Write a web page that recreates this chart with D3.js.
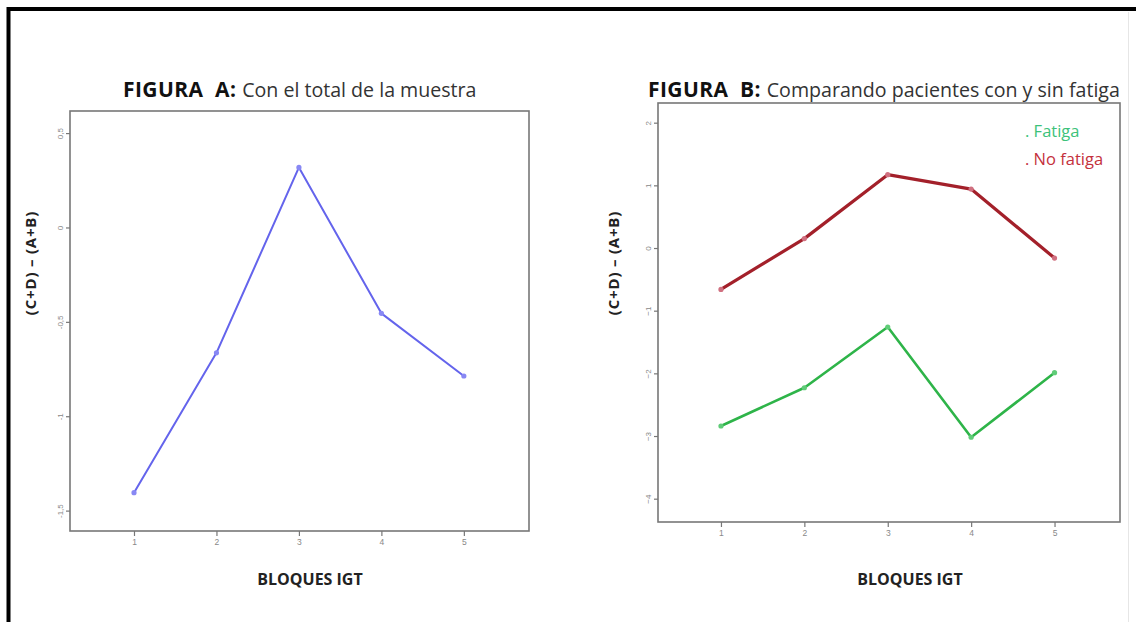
<!DOCTYPE html>
<html>
<head>
<meta charset="utf-8">
<script src="https://cdn.jsdelivr.net/npm/d3@7"></script>
<style>
  html, body { margin: 0; padding: 0; background: #fff; }
  svg { display: block; }
  text { white-space: pre; }
</style>
</head>
<body>
<svg id="chart" width="1136" height="622"></svg>
<script>
// IGT blocks on the x axis
const blocks = [1, 2, 3, 4, 5];

// Figure A: whole sample, (C+D) - (A+B) per block
const totalSample = [-1.405, -0.664, 0.318, -0.455, -0.787];

// Figure B: patients with / without fatigue
const fatigaValues = [-2.84, -2.23, -1.26, -3.02, -1.99];
const noFatigaValues = [-0.66, 0.15, 1.17, 0.94, -0.16];

// Axis tick values
const ticksA = [0.5, 0, -0.5, -1, -1.5];
const ticksB = [2, 1, 0, -1, -2, -3, -4];

const legendLabels = [". Fatiga", ". No fatiga"];

const svg = d3.select("#chart");
const fmtComma = d => String(d).replace(".", ",");
const SANS = "'Open Sans', Lato, sans-serif";

// outer frame (top and left edges visible)
svg.append("rect").attr("x", 0).attr("y", 0).attr("width", 1136).attr("height", 622).attr("fill", "#fff");
svg.append("line").attr("x1", 8.5).attr("x2", 1136).attr("y1", 9).attr("y2", 9)
  .attr("stroke", "#000").attr("stroke-width", 4);
svg.append("line").attr("x1", 8.5).attr("x2", 8.5).attr("y1", 7).attr("y2", 622)
  .attr("stroke", "#000").attr("stroke-width", 4);
svg.append("line").attr("x1", 1128.5).attr("x2", 1128.5).attr("y1", 12).attr("y2", 622)
  .attr("stroke", "#e6e6e6").attr("stroke-width", 1);

function panel(cfg) {
  const { left, right, top, bottom, xDomain, yDomain, ticks, tickFmt } = cfg;
  const x = d3.scaleLinear().domain(xDomain).range([left, right]);
  const y = d3.scaleLinear().domain(yDomain).range([bottom, top]);

  // plot frame
  svg.append("rect")
    .attr("x", left).attr("y", top)
    .attr("width", right - left).attr("height", bottom - top)
    .attr("fill", "none").attr("stroke", "#777").attr("stroke-width", 1.6);

  // y axis
  const ya = svg.append("g").attr("transform", `translate(${left},0)`)
    .call(d3.axisLeft(y).tickValues(ticks).tickSize(4).tickFormat(tickFmt));
  ya.select(".domain").remove();
  ya.selectAll(".tick line").attr("stroke", "#777").attr("stroke-width", 1.2);
  ya.selectAll(".tick text")
    .attr("fill", "#888").attr("font-size", 8).attr("font-family", "Liberation Sans, Arial, sans-serif")
    .attr("x", null)
    .attr("text-anchor", "middle")
    .attr("transform", "translate(-10,0) rotate(-90)")
    .attr("dy", "0.35em");

  // x axis
  const xa = svg.append("g").attr("transform", `translate(0,${bottom})`)
    .call(d3.axisBottom(x).tickValues(blocks).tickSize(5).tickFormat(d3.format("d")));
  xa.select(".domain").remove();
  xa.selectAll(".tick line").attr("stroke", "#777").attr("stroke-width", 1.2);
  xa.selectAll(".tick text")
    .attr("fill", "#888").attr("font-size", 8.5).attr("font-family", "Liberation Sans, Arial, sans-serif")
    .attr("y", 8);

  return { x, y };
}

function series(p, values, color, markColor, width) {
  const line = d3.line().x((d, i) => p.x(blocks[i])).y(d => p.y(d));
  svg.append("path").datum(values)
    .attr("d", line).attr("fill", "none")
    .attr("stroke", color).attr("stroke-width", width)
    .attr("stroke-linejoin", "round").attr("stroke-linecap", "round");
  svg.append("g").selectAll("circle").data(values).join("circle")
    .attr("cx", (d, i) => p.x(blocks[i])).attr("cy", d => p.y(d))
    .attr("r", 2.6).attr("fill", markColor).attr("stroke", "none");
}

function title(xPos, bold, rest) {
  const t = svg.append("text").attr("x", xPos).attr("y", 97)
    .attr("font-family", SANS).attr("fill", "#222");
  t.append("tspan").attr("font-weight", 700).attr("font-size", 21)
    .attr("letter-spacing", 0.4).attr("fill", "#111").text(bold);
  t.append("tspan").attr("font-weight", 400).attr("font-size", 19.6)
    .attr("fill", "#333").text(rest);
}

function axisTitles(yx, yy, xx, xy) {
  svg.append("text")
    .attr("transform", `translate(${yx},${yy}) rotate(-90)`)
    .attr("text-anchor", "middle")
    .attr("font-family", SANS).attr("font-weight", 700)
    .attr("font-size", 15).attr("letter-spacing", 0.8).attr("fill", "#222")
    .text("(C+D) \u2013 (A+B)");
  svg.append("text")
    .attr("x", xx).attr("y", xy).attr("text-anchor", "middle")
    .attr("font-family", SANS).attr("font-weight", 700)
    .attr("font-size", 16).attr("fill", "#222")
    .text("BLOQUES IGT");
}

// ---- Figure A ----
const pA = panel({
  left: 70, right: 529, top: 111, bottom: 531,
  xDomain: [0.224, 5.79], yDomain: [-1.608, 0.617],
  ticks: ticksA, tickFmt: fmtComma
});
series(pA, totalSample, "#6464ec", "#8888f4", 2);
title(123, "FIGURA  A: ", "Con el total de la muestra");
axisTitles(36, 263, 310, 585);

// ---- Figure B ----
const pB = panel({
  left: 658, right: 1120, top: 103, bottom: 522,
  xDomain: [0.245, 5.785], yDomain: [-4.372, 2.314],
  ticks: ticksB, tickFmt: d3.format("d")
});
series(pB, noFatigaValues, "#a3202a", "#d07080", 3.2);
series(pB, fatigaValues, "#2eb449", "#60cc78", 2.6);
title(648, "FIGURA  B: ", "Comparando pacientes con y sin fatiga");
axisTitles(619, 263, 910, 585);

// legend
const legendColors = ["#3cc27a", "#c4303c"];
svg.append("g").selectAll("text").data(legendLabels).join("text")
  .attr("x", 1025).attr("y", (d, i) => 137 + i * 28)
  .attr("font-family", SANS).attr("font-size", 16.5)
  .attr("fill", (d, i) => legendColors[i])
  .text(d => d);
</script>
</body>
</html>
